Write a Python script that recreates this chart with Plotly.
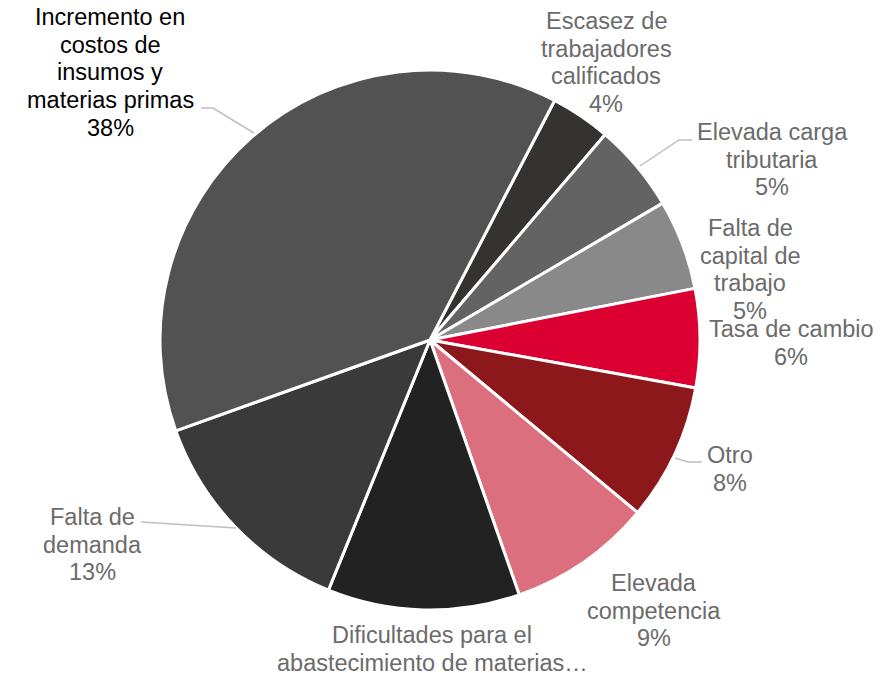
import plotly.graph_objects as go

# ---- data (clockwise from the "Escasez" slice) ----
labels = [
    "Escasez de trabajadores calificados",
    "Elevada carga tributaria",
    "Falta de capital de trabajo",
    "Tasa de cambio",
    "Otro",
    "Elevada competencia",
    "Dificultades para el abastecimiento de materias primas",
    "Falta de demanda",
    "Incremento en costos de insumos y materias primas",
]
values = [3.6, 5.3, 5.4, 5.9, 8.2, 8.6, 11.5, 13.4, 38.1]
label_lines = [
    ["Escasez de", "trabajadores", "calificados"],
    ["Elevada carga", "tributaria"],
    ["Falta de", "capital de", "trabajo"],
    ["Tasa de cambio"],
    ["Otro"],
    ["Elevada", "competencia"],
    ["Dificultades para el", "abastecimiento de materias…"],
    ["Falta de", "demanda"],
    ["Incremento en", "costos de", "insumos y", "materias primas"],
]
show_pct = [True, True, True, True, True, True, False, True, True]
colors = ["#343331", "#636363", "#898989", "#DC0032", "#8C181B",
          "#DB6F7E", "#222222", "#3A3A3A", "#525252"]
text_colors = ["#6b6b6b"] * 8 + ["#000000"]

W, H = 887, 673
CX, CY, R = 430, 340, 270
LINE_PITCH = 27.7
FONT_SIZE = 23.5

# label anchor positions: (x center, y of first line), pixels from top-left
label_pos = [(606, 21), (772, 132), (750, 228), (791, 329), (730, 455),
             (654, 583), (432, 635), (92, 517), (110, 17)]
leaders = {
    1: [(640, 166), (679, 140), (692, 140)],
    4: [(675, 458), (688, 462), (702, 462)],
    7: [(141, 522), (236, 528)],
    8: [(201, 108), (213, 108), (254, 133)],
}

def px(x):
    return x / W

def py(y):
    return 1 - y / H

total = sum(values)
fig = go.Figure(go.Pie(
    labels=labels,
    values=values,
    sort=False,
    direction="clockwise",
    rotation=27.5,
    marker=dict(colors=colors, line=dict(color="white", width=3)),
    textinfo="none",
    hoverinfo="label+percent",
    domain=dict(x=[px(CX - R), px(CX + R)], y=[py(CY + R), py(CY - R)]),
))

for i, (lines, v, sp) in enumerate(zip(label_lines, values, show_pct)):
    all_lines = list(lines) + ([f"{round(v / total * 100)}%"] if sp else [])
    x, y0 = label_pos[i]
    for k, line in enumerate(all_lines):
        fig.add_annotation(
            x=px(x), y=py(y0 + k * LINE_PITCH), xref="paper", yref="paper",
            text=line, showarrow=False, xanchor="center", yanchor="middle",
            font=dict(family="Liberation Sans, Arial, sans-serif",
                      size=FONT_SIZE, color=text_colors[i]),
        )

for i, pts in leaders.items():
    path = "M " + " L ".join(f"{px(a)},{py(b)}" for a, b in pts)
    fig.add_shape(type="path", path=path, xref="paper", yref="paper",
                  line=dict(color="#BFBFBF", width=1.5))

fig.update_layout(
    width=W, height=H,
    margin=dict(l=0, r=0, t=0, b=0),
    paper_bgcolor="white",
    plot_bgcolor="white",
    showlegend=False,
)

fig.write_html(
    "out.html",
    config={"displayModeBar": False},
    post_script="document.body.style.margin='0';document.body.style.padding='0';",
)
